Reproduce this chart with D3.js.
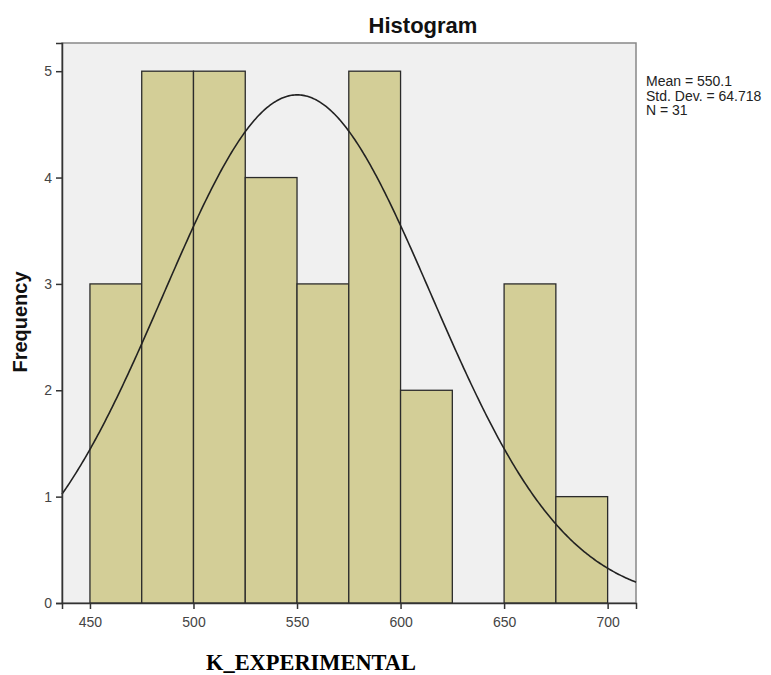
<!DOCTYPE html>
<html><head><meta charset="utf-8">
<script src="https://cdn.jsdelivr.net/npm/d3@7"></script>
<style>body{margin:0;background:#fff;}svg{display:block;}</style>
</head><body>
<svg id="c" width="771" height="675"></svg>
<script>
const binStarts = [450,475,500,525,550,575,600,625,650,675];
const binWidth = 25;
const counts = [3,5,5,4,3,5,2,0,3,1];
const xTicks = [450,500,550,600,650,700];
const yTicks = [0,1,2,3,4,5];
const statsLines = ["Mean = 550.1","Std. Dev. = 64.718","N = 31"];
const mean = 550.1, sd = 64.718, n = 31;

const svg = d3.select("#c");
const L=62,T=43,R=636,B=603;
const x = d3.scaleLinear().domain([436.5,713.7]).range([L,R]);
const y = d3.scaleLinear().domain([0,5.265]).range([B,T]);

svg.append("rect").attr("x",L).attr("y",T).attr("width",R-L).attr("height",B-T)
  .attr("fill","#f0f0f0").attr("stroke","#888").attr("stroke-width",1.5);

const data = binStarts.map((s,i)=>({s,c:counts[i]})).filter(d=>d.c>0);
svg.selectAll("rect.bar").data(data).enter().append("rect").attr("class","bar")
  .attr("x",d=>x(d.s)).attr("width",d=>x(d.s+binWidth)-x(d.s))
  .attr("y",d=>y(d.c)).attr("height",d=>y(0)-y(d.c))
  .attr("fill","#d3ce97").attr("stroke","#2b2b2b").attr("stroke-width",1.3);

const dens = v => n*binWidth/(sd*Math.sqrt(2*Math.PI))*Math.exp(-0.5*((v-mean)/sd)**2);
const pts = d3.range(0,401).map(i=>{const v=436.5+(713.7-436.5)*i/400;return [x(v),y(dens(v))];});
svg.append("path").attr("d",d3.line()(pts)).attr("fill","none").attr("stroke","#222").attr("stroke-width",1.6);

const yAx = svg.append("g").attr("transform",`translate(${L},0)`)
  .call(d3.axisLeft(y).tickValues(yTicks).tickFormat(d3.format("d")).tickSize(6).tickPadding(4));
const xAx = svg.append("g").attr("transform",`translate(0,${B})`)
  .call(d3.axisBottom(x).tickValues(xTicks).tickSize(6).tickPadding(8));
[yAx,xAx].forEach(g=>{
  g.select(".domain").attr("stroke","#333").attr("stroke-width",1.5);
  g.selectAll(".tick line").attr("stroke","#333").attr("stroke-width",1.5);
  g.selectAll(".tick text").attr("fill","#444").attr("font-family","Liberation Sans, Arial, sans-serif").attr("font-size",14);
});

svg.append("text").attr("x",423).attr("y",33).attr("text-anchor","middle")
  .attr("font-family","Liberation Sans, Arial, sans-serif").attr("font-weight","bold").attr("font-size",22)
  .attr("fill","#111").text("Histogram");

svg.append("text").attr("transform","translate(27,322) rotate(-90)").attr("text-anchor","middle")
  .attr("font-family","Liberation Sans, Arial, sans-serif").attr("font-weight","bold").attr("font-size",20)
  .attr("fill","#111").text("Frequency");

svg.append("text").attr("x",311).attr("y",670).attr("text-anchor","middle")
  .attr("font-family","Liberation Serif, Times New Roman, serif").attr("font-weight","bold").attr("font-size",23)
  .attr("textLength",210).attr("lengthAdjust","spacingAndGlyphs")
  .attr("fill","#000").text("K_EXPERIMENTAL");

svg.append("g").selectAll("text").data(statsLines).enter().append("text")
  .attr("x",646).attr("y",(d,i)=>86+i*14.5)
  .attr("font-family","Liberation Sans, Arial, sans-serif").attr("font-size",14)
  .attr("fill","#222").text(d=>d);
</script>
</body></html>
